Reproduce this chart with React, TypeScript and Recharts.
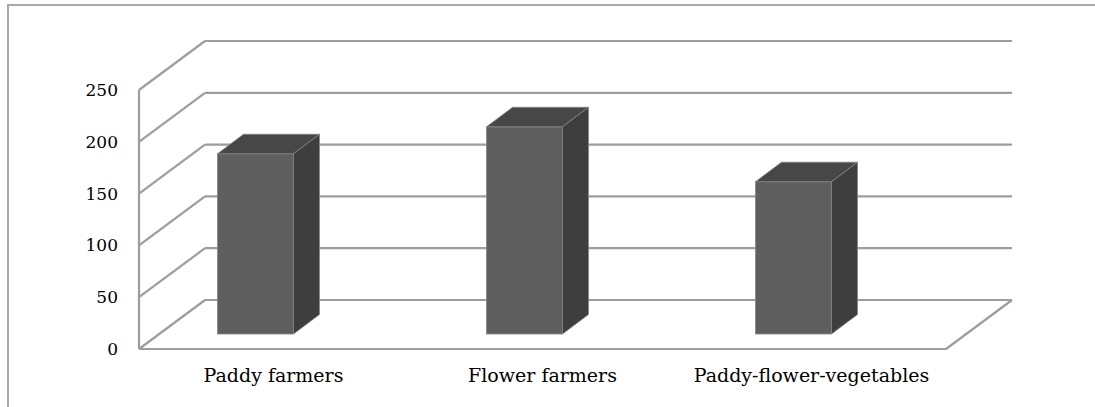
import { BarChart, Bar, XAxis, YAxis, CartesianGrid } from 'recharts'

const categories = ['Paddy farmers', 'Flower farmers', 'Paddy-flower-vegetables']
const farmerCounts = [174, 200, 147]
const yTicks = [0, 50, 100, 150, 200, 250]

// oblique offset of the back wall and of each bar's depth
const WALL_DX = 66
const WALL_DY = -49
const BAR_DX = 26
const BAR_DY = -19.5
const BAR_SHIFT_X = -18.5
const BAR_SHIFT_Y = -15

const GRID = '#9d9d9d'
const FONT = '"DejaVu Serif", serif'

const data = categories.map((name, i) => ({ name, value: farmerCounts[i] }))

function WallLine(props: any) {
  const { x1, y1, x2, y, height } = props
  const isFloor = Math.abs(y1 - (y + height)) < 0.5
  return (
    <g>
      <line x1={x1} y1={y1} x2={x1 + WALL_DX} y2={y1 + WALL_DY} stroke={GRID} strokeWidth={2.2} />
      <line
        x1={x1 + WALL_DX}
        y1={y1 + WALL_DY}
        x2={x2 + WALL_DX}
        y2={y1 + WALL_DY}
        stroke={GRID}
        strokeWidth={2.2}
      />
      {isFloor && (
        <line x1={x2} y1={y1} x2={x2 + WALL_DX} y2={y1 + WALL_DY} stroke={GRID} strokeWidth={2.2} />
      )}
    </g>
  )
}

function Box(props: any) {
  const { x, y, width: w, height: h } = props
  const fx = x + BAR_SHIFT_X
  const fy = y + BAR_SHIFT_Y
  const top = `${fx},${fy} ${fx + BAR_DX},${fy + BAR_DY} ${fx + w + BAR_DX},${fy + BAR_DY} ${fx + w},${fy}`
  const side = `${fx + w},${fy} ${fx + w + BAR_DX},${fy + BAR_DY} ${fx + w + BAR_DX},${fy + h + BAR_DY} ${fx + w},${fy + h}`
  return (
    <g>
      <rect x={fx} y={fy} width={w} height={h} fill="#5f5f5f" stroke="#858585" strokeWidth={0.8} />
      <polygon points={top} fill="#474747" stroke="#858585" strokeWidth={0.8} />
      <polygon points={side} fill="#3e3e3e" stroke="#858585" strokeWidth={0.8} />
    </g>
  )
}

export default function App() {
  return (
    <div
      style={{
        position: 'absolute',
        left: 0,
        top: 0,
        width: 1095,
        height: 407,
        overflow: 'hidden',
        background: '#fff',
      }}
    >
      <div
        style={{
          position: 'absolute',
          left: 7,
          top: 4,
          width: 1120,
          height: 440,
          border: '2px solid #a8a8a8',
        }}
      />
      <div style={{ position: 'absolute', left: 0, top: 0 }}>
        <BarChart
          width={1095}
          height={407}
          data={data}
          margin={{ top: 90, right: 149, bottom: 38, left: 79 }}
        >
          <CartesianGrid vertical={false} horizontal={(p: any) => <WallLine key={p.key} {...p} />} />
          <XAxis
            dataKey="name"
            height={20}
            axisLine={{ stroke: GRID, strokeWidth: 2.2 }}
            tickLine={false}
            tickSize={0}
            tickMargin={20}
            interval={0}
            tick={{ fill: '#000', fontSize: 19, fontFamily: FONT }}
          />
          <YAxis
            width={60}
            domain={[0, 250]}
            ticks={yTicks}
            axisLine={{ stroke: GRID, strokeWidth: 2.2 }}
            tickLine={false}
            tickSize={0}
            tickMargin={21}
            tick={{ fill: '#000', fontSize: 17, fontFamily: FONT }}
          />
          <Bar dataKey="value" barSize={76} shape={<Box />} isAnimationActive={false} />
        </BarChart>
      </div>
    </div>
  )
}
